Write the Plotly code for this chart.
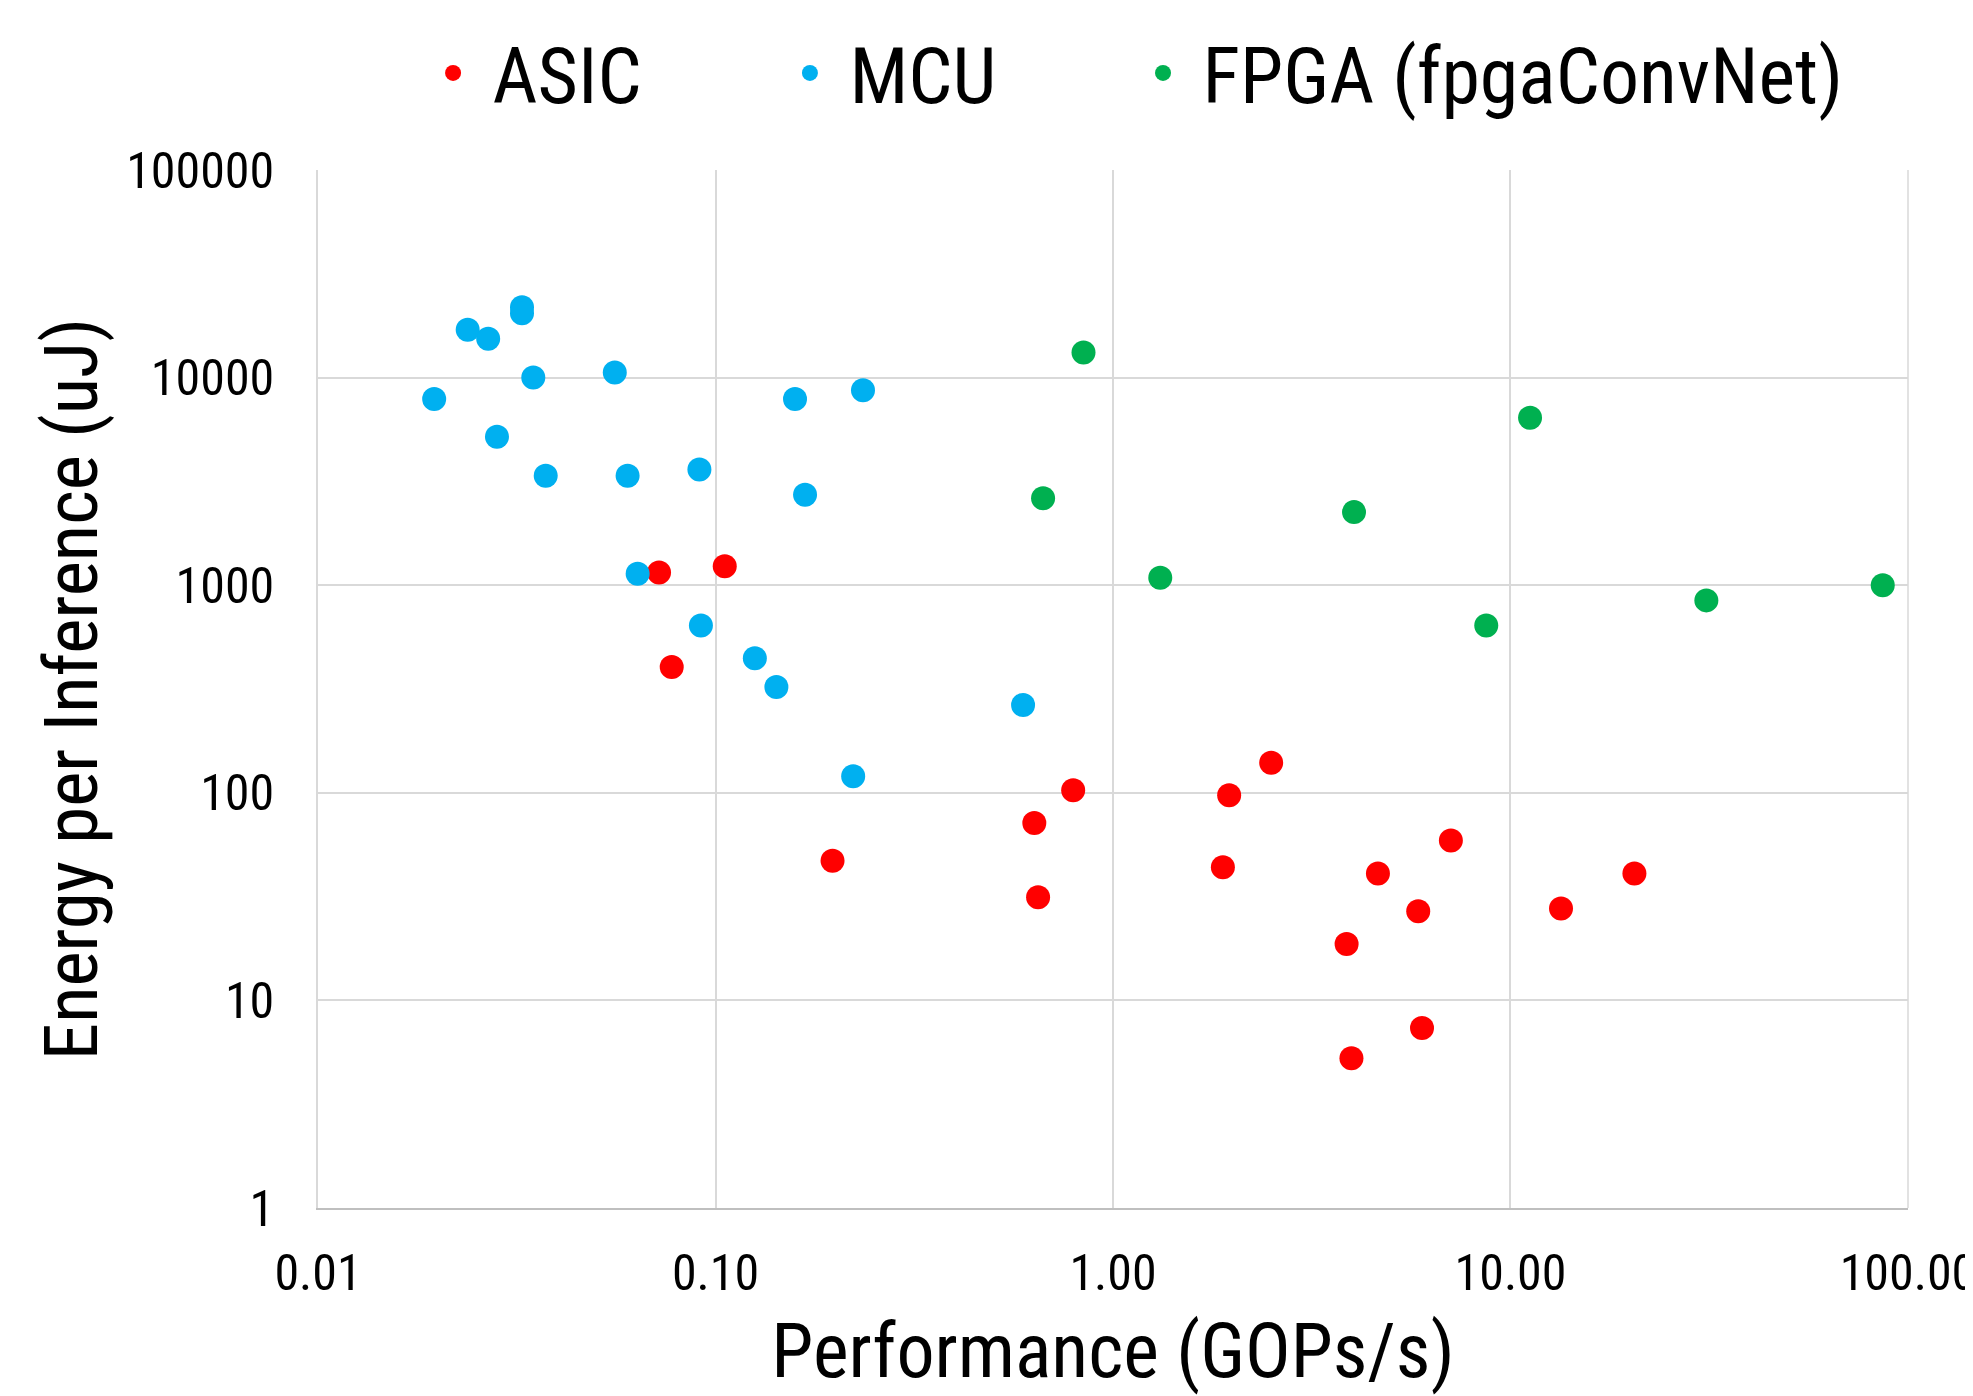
import plotly.graph_objects as go

# ---- data ----
asic_perf = [0.0721, 0.0776, 0.1055, 0.197, 0.634, 0.648, 0.794, 1.89, 1.96, 2.50,
             3.87, 3.98, 4.64, 5.86, 5.99, 7.08, 13.4, 20.5]
asic_energy = [1150, 404, 1233, 47.1, 71.6, 31.4, 102.8, 43.8, 97.3, 139.7,
               18.7, 5.26, 40.9, 26.9, 7.36, 58.9, 27.7, 40.9]

mcu_perf = [0.0196, 0.0238, 0.0268, 0.0282, 0.0326, 0.0326, 0.0348, 0.0374, 0.0558, 0.0601,
            0.0637, 0.0911, 0.0919, 0.1256, 0.1423, 0.1585, 0.168, 0.222, 0.235, 0.594]
mcu_energy = [7890, 17000, 15400, 5190, 21800, 20400, 10000, 3370, 10580, 3370,
              1135, 3610, 640, 445, 323, 7890, 2730, 120, 8690, 265]

fpga_perf = [0.667, 0.843, 1.315, 4.04, 8.69, 11.2, 31.1, 86.4]
fpga_energy = [2620, 13200, 1086, 2250, 640, 6400, 845, 1000]

series_names = ["ASIC", "MCU", "FPGA (fpgaConvNet)"]
series_colors = ["#FF0000", "#00B0F0", "#00B050"]

x_tickvals = [0.01, 0.1, 1, 10, 100]
x_ticktext = ["0.01", "0.10", "1.00", "10.00", "100.00"]
y_tickvals = [1, 10, 100, 1000, 10000, 100000]
y_ticktext = ["1", "10", "100", "1000", "10000", "100000"]

FONT = "Liberation Sans Narrow, Arial Narrow, Roboto Condensed, Liberation Sans, Arial, sans-serif"

W, H = 1965, 1388  # page body has an 8px margin

legend_ids = ["legend", "legend2", "legend3"]
legend_x = [0.2064, 0.3880, 0.5677]

fig = go.Figure()
for name, xs, ys, col, lid in zip(series_names,
                                  [asic_perf, mcu_perf, fpga_perf],
                                  [asic_energy, mcu_energy, fpga_energy],
                                  series_colors, legend_ids):
    fig.add_trace(go.Scatter(x=xs, y=ys, mode="markers", name=name, legend=lid,
                             marker=dict(color=col, size=24, line=dict(width=0))))

grid = "#d9d9d9"
fig.update_xaxes(type="log", range=[-2, 2.00005], tickvals=x_tickvals, ticktext=x_ticktext,
                 showgrid=True, gridcolor=grid, gridwidth=1.5,
                 showline=True, linecolor="#bfbfbf", linewidth=2, mirror=False,
                 ticks="", ticklabelstandoff=20, automargin=False,
                 ticklabeloverflow="allow",
                 tickfont=dict(size=50, color="black", family=FONT),
                 title=dict(text="Performance (GOPs/s)", font=dict(size=76, color="black", family=FONT),
                            standoff=48),
                 zeroline=False)
fig.update_yaxes(type="log", range=[0, 5], tickvals=y_tickvals, ticktext=y_ticktext,
                 showgrid=True, gridcolor=grid, gridwidth=1.5,
                 showline=True, linecolor=grid, linewidth=1.5,
                 ticks="", ticklabelstandoff=32, automargin=False,
                 tickfont=dict(size=50, color="black", family=FONT),
                 title=dict(text="Energy per Inference (uJ)", font=dict(size=75, color="black", family=FONT),
                            standoff=4),
                 zeroline=False)
# vertical axis crosses at 1.00 (Excel default)
fig.add_vline(x=1, line=dict(color="#bfbfbf", width=1.5), layer="below")
# right border
fig.add_shape(type="line", xref="paper", yref="paper", x0=1, x1=1, y0=0, y1=1,
              line=dict(color=grid, width=1.5), layer="below")

legend_common = dict(orientation="h", xref="container", yref="container",
                     xanchor="left", y=0.953, yanchor="middle", itemwidth=69,
                     font=dict(size=78, color="black", family=FONT),
                     bgcolor="rgba(0,0,0,0)")
fig.update_layout(
    width=W, height=H,
    margin=dict(l=310, r=65, t=162, b=188),
    paper_bgcolor="white", plot_bgcolor="white",
    font=dict(family=FONT, color="black"),
    showlegend=True,
    legend=dict(x=legend_x[0], **legend_common),
    legend2=dict(x=legend_x[1], **legend_common),
    legend3=dict(x=legend_x[2], **legend_common),
)

fig.write_html("out.html")
